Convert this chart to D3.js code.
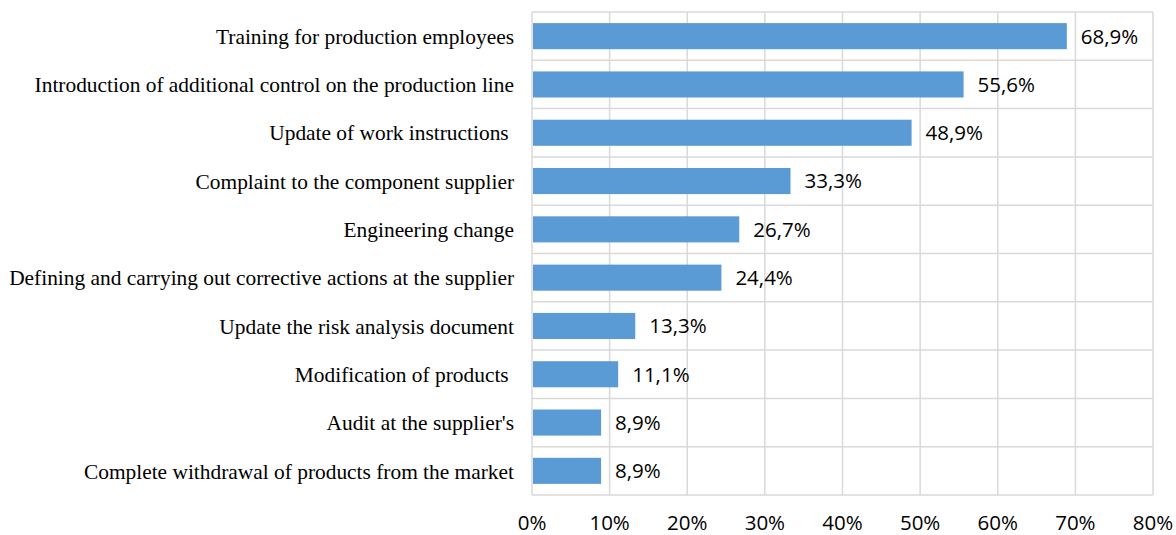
<!DOCTYPE html>
<html><head><meta charset="utf-8">
<script src="https://cdn.jsdelivr.net/npm/d3@7"></script>
<style>body{margin:0;background:#fff;} text{white-space:pre;}</style>
</head><body>
<svg id="chart" width="1176" height="535"></svg>
<script>
const categories = [
  "Training for production employees",
  "Introduction of additional control on the production line",
  "Update of work instructions ",
  "Complaint to the component supplier",
  "Engineering change",
  "Defining and carrying out corrective actions at the supplier",
  "Update the risk analysis document",
  "Modification of products ",
  "Audit at the supplier's",
  "Complete withdrawal of products from the market"
];
const values = [68.9, 55.6, 48.9, 33.3, 26.7, 24.4, 13.3, 11.1, 8.9, 8.9];
const ticks = [0, 10, 20, 30, 40, 50, 60, 70, 80];

const svg = d3.select("#chart");
const m = {left: 532, right: 1153, top: 12, bottom: 495};
const x = d3.scaleLinear().domain([0, 80]).range([m.left, m.right]);
const y = d3.scaleBand().domain(categories).range([m.top, m.bottom]).paddingInner(0.46).paddingOuter(0.23);

const grid = "#d9d9d9";
svg.append("g").selectAll("line").data(ticks).join("line")
  .attr("x1", d => x(d)).attr("x2", d => x(d))
  .attr("y1", m.top).attr("y2", m.bottom)
  .attr("stroke", grid).attr("stroke-width", 1.5);
const step = (m.bottom - m.top) / categories.length;
svg.append("g").selectAll("line").data(d3.range(categories.length + 1)).join("line")
  .attr("x1", m.left).attr("x2", m.right)
  .attr("y1", i => m.top + i * step).attr("y2", i => m.top + i * step)
  .attr("stroke", grid).attr("stroke-width", 1.5);

svg.append("g").selectAll("rect").data(values).join("rect")
  .attr("x", x(0) + 1)
  .attr("y", (d, i) => y(categories[i]))
  .attr("width", d => x(d) - x(0) - 1)
  .attr("height", y.bandwidth())
  .attr("fill", "#5b9bd5");

svg.append("g").selectAll("text").data(values).join("text")
  .attr("x", d => x(d) + 14)
  .attr("y", (d, i) => y(categories[i]) + y.bandwidth() / 2)
  .attr("dy", "0.36em")
  .attr("font-family", "'Open Sans', 'Liberation Sans', sans-serif")
  .attr("font-size", 20.5)
  .attr("fill", "#000")
  .text(d => d.toFixed(1).replace(".", ",") + "%");

svg.append("g").selectAll("text").data(categories).join("text")
  .attr("x", 514)
  .attr("y", d => y(d) + y.bandwidth() / 2)
  .attr("dy", "0.36em")
  .attr("text-anchor", "end")
  .attr("font-family", "'Liberation Serif', 'Times New Roman', serif")
  .attr("font-size", 21.4)
  .attr("fill", "#000")
  .text(d => d);

svg.append("g").selectAll("text").data(ticks).join("text")
  .attr("x", d => x(d))
  .attr("y", 523)
  .attr("dy", "0.36em")
  .attr("text-anchor", "middle")
  .attr("font-family", "'Open Sans', 'Liberation Sans', sans-serif")
  .attr("font-size", 20.5)
  .attr("fill", "#000")
  .text(d => d + "%");
</script>
</body></html>
